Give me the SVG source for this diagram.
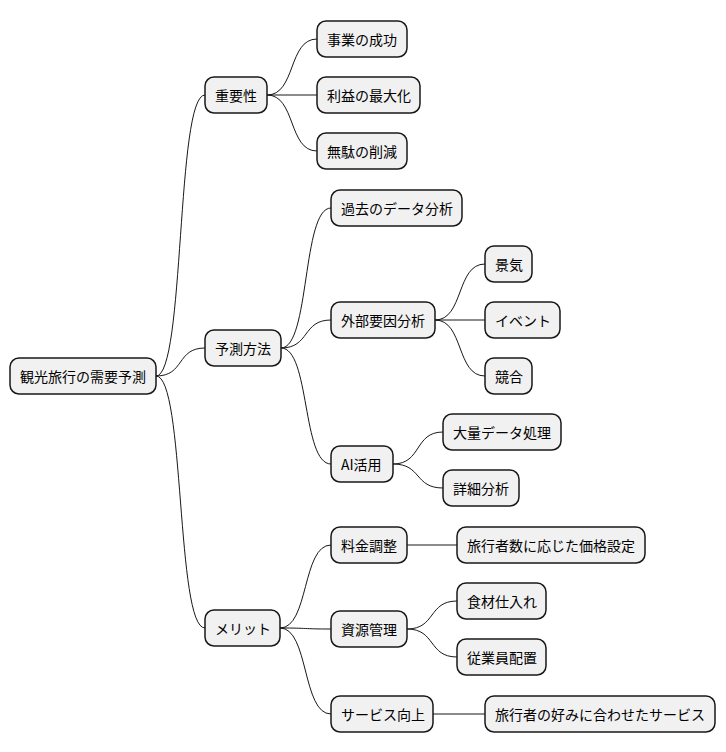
<svg xmlns="http://www.w3.org/2000/svg" width="726" height="752" viewBox="0 0 726 752">
<style>
rect{fill:#f1f1f1;stroke:#181818;stroke-width:1.5}
text{font-family:"Noto Sans CJK JP","Noto Sans",sans-serif;font-size:14px;fill:#000;dominant-baseline:central}
path{fill:none;stroke:#181818;stroke-width:1}
</style>
<rect width="726" height="752" fill="#fff" style="fill:#fff;stroke:none"/>
<g id="connectors">
<path d="M156,376 C185,376 176,95 205,95"/>
<path d="M156,376 C185,376 176,348 205,348"/>
<path d="M156,376 C185,376 176,628 205,628"/>
<path d="M267,95 C296,95 288,39 317,39"/>
<path d="M267,95 L317,95"/>
<path d="M267,95 C296,95 288,151 317,151"/>
<path d="M281,348 C310,348 302,208 331,208"/>
<path d="M281,348 C310,348 302,320 331,320"/>
<path d="M281,348 C310,348 302,464 331,464"/>
<path d="M435,320 C464,320 456,264 485,264"/>
<path d="M435,320 L485,320"/>
<path d="M435,320 C464,320 456,376 485,376"/>
<path d="M393,464 C422,464 414,432 443,432"/>
<path d="M393,464 C422,464 414,488 443,488"/>
<path d="M280,628 C309,628 302,545 331,545"/>
<path d="M280,628 C309,628 302,629 331,629"/>
<path d="M280,628 C309,628 302,714 331,714"/>
<path d="M407,545 L457,545"/>
<path d="M407,629 C436,629 428,601 457,601"/>
<path d="M407,629 C436,629 428,657 457,657"/>
<path d="M433,714 L485,714"/>
</g>
<g id="root"><rect x="10" y="358" width="146" height="36" rx="9"/><text x="20" y="376">観光旅行の需要予測</text></g>
<g id="n1"><rect x="205" y="77" width="62" height="36" rx="9"/><text x="215" y="95">重要性</text></g>
<g id="n11"><rect x="317" y="21" width="90" height="36" rx="9"/><text x="327" y="39">事業の成功</text></g>
<g id="n12"><rect x="317" y="77" width="103" height="36" rx="9"/><text x="327" y="95">利益の最大化</text></g>
<g id="n13"><rect x="317" y="133" width="90" height="36" rx="9"/><text x="327" y="151">無駄の削減</text></g>
<g id="n2"><rect x="205" y="330" width="76" height="36" rx="9"/><text x="215" y="348">予測方法</text></g>
<g id="n21"><rect x="331" y="190" width="131" height="36" rx="9"/><text x="341" y="208">過去のデータ分析</text></g>
<g id="n22"><rect x="331" y="302" width="104" height="36" rx="9"/><text x="341" y="320">外部要因分析</text></g>
<g id="n221"><rect x="485" y="246" width="47" height="36" rx="9"/><text x="495" y="264">景気</text></g>
<g id="n222"><rect x="485" y="302" width="75" height="36" rx="9"/><text x="495" y="320">イベント</text></g>
<g id="n223"><rect x="485" y="358" width="47" height="36" rx="9"/><text x="495" y="376">競合</text></g>
<g id="n23"><rect x="331" y="446" width="62" height="36" rx="9"/><text x="341" y="464">AI活用</text></g>
<g id="n231"><rect x="443" y="414" width="118" height="36" rx="9"/><text x="453" y="432">大量データ処理</text></g>
<g id="n232"><rect x="443" y="470" width="76" height="36" rx="9"/><text x="453" y="488">詳細分析</text></g>
<g id="n3"><rect x="205" y="610" width="75" height="36" rx="9"/><text x="215" y="628">メリット</text></g>
<g id="n31"><rect x="331" y="527" width="76" height="36" rx="9"/><text x="341" y="545">料金調整</text></g>
<g id="n311"><rect x="457" y="527" width="188" height="36" rx="9"/><text x="467" y="545">旅行者数に応じた価格設定</text></g>
<g id="n32"><rect x="331" y="611" width="76" height="36" rx="9"/><text x="341" y="629">資源管理</text></g>
<g id="n321"><rect x="457" y="583" width="89" height="36" rx="9"/><text x="467" y="601">食材仕入れ</text></g>
<g id="n322"><rect x="457" y="639" width="89" height="36" rx="9"/><text x="467" y="657">従業員配置</text></g>
<g id="n33"><rect x="331" y="696" width="102" height="36" rx="9"/><text x="341" y="714">サービス向上</text></g>
<g id="n331"><rect x="485" y="696" width="230" height="36" rx="9"/><text x="495" y="714">旅行者の好みに合わせたサービス</text></g>
</svg>
